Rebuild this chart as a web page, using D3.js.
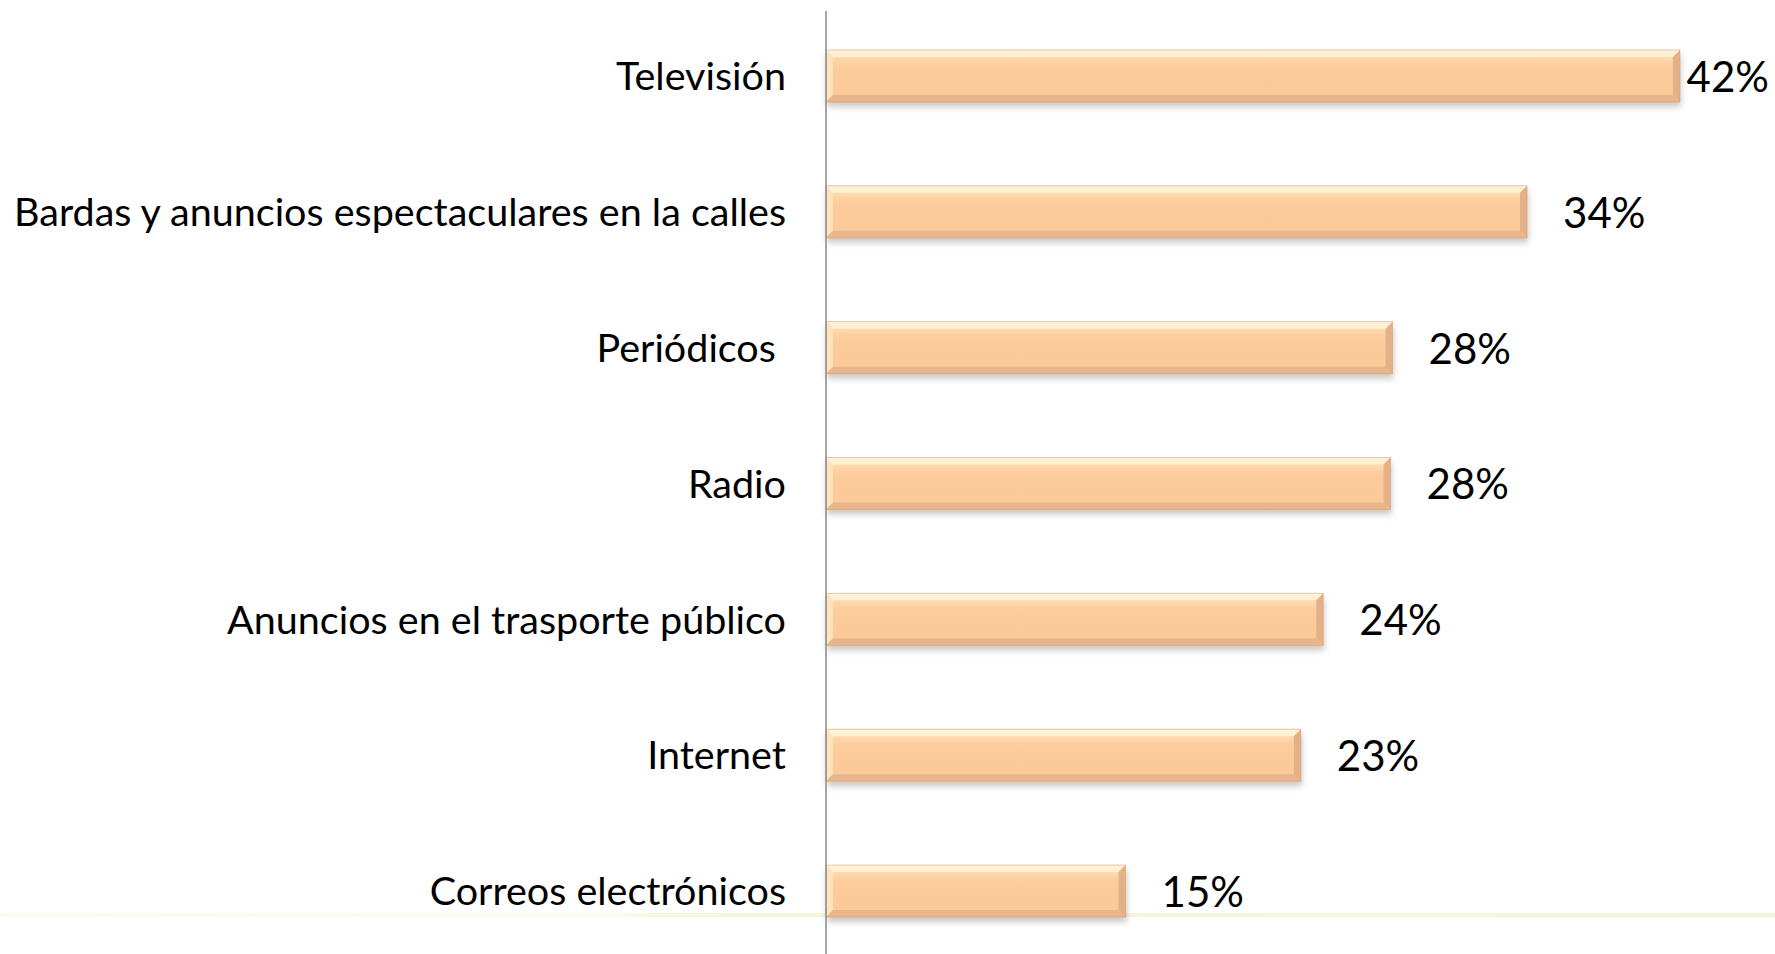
<!DOCTYPE html>
<html>
<head>
<meta charset="utf-8">
<script src="https://cdn.jsdelivr.net/npm/d3@7/dist/d3.min.js"></script>
<style>
  html, body { margin: 0; padding: 0; background: #fff; overflow: hidden; }
  text { font-family: Lato, "Open Sans", sans-serif; fill: #000; white-space: pre; }
</style>
</head>
<body>
<svg id="chart"></svg>
<script>
// categories top to bottom, and share in percent
const categories = [
    'Televisión',
    'Bardas y anuncios espectaculares en la calles',
    'Periódicos ',
    'Radio',
    'Anuncios en el trasporte público',
    'Internet',
    'Correos electrónicos'
];
const values = [41.9, 34.4, 27.8, 27.7, 24.4, 23.3, 14.7];
const valueLabels = ['42%', '34%', '28%', '28%', '24%', '23%', '15%'];

const width = 1775;
const height = 954;
const axisX = 826;

const svg = d3.select('#chart')
    .attr('width', width)
    .attr('height', height);

const x = d3.scaleLinear()
    .domain([0, 100])
    .range([axisX, axisX + 2038]);

const y = d3.scaleBand()
    .domain(categories)
    .range([8, 959])
    .paddingInner(0.617)
    .paddingOuter(0.3085);

const defs = svg.append('defs');

// faint band running across the bottom
const bandGrad = defs.append('linearGradient').attr('id', 'bandGrad');
bandGrad.append('stop').attr('offset', '0%').attr('stop-color', '#fbfcef');
bandGrad.append('stop').attr('offset', '35%').attr('stop-color', '#fafbea');
bandGrad.append('stop').attr('offset', '37%').attr('stop-color', '#f4f7da');
bandGrad.append('stop').attr('offset', '100%').attr('stop-color', '#f3f6d6');

svg.append('rect')
    .attr('x', 0)
    .attr('y', 913)
    .attr('width', width)
    .attr('height', 4)
    .attr('fill', 'url(#bandGrad)');

// bar look: peach with a bevel and a soft shadow
const fillGrad = defs.append('linearGradient')
    .attr('id', 'fillGrad')
    .attr('x1', 0).attr('y1', 0).attr('x2', 0).attr('y2', 1);
fillGrad.append('stop').attr('offset', '0%').attr('stop-color', '#fee6c2');
fillGrad.append('stop').attr('offset', '30%').attr('stop-color', '#fdcc9c');
fillGrad.append('stop').attr('offset', '100%').attr('stop-color', '#fcc898');

const shadow = defs.append('filter')
    .attr('id', 'shadow')
    .attr('x', '-5%').attr('y', '-30%')
    .attr('width', '110%').attr('height', '180%');
shadow.append('feDropShadow')
    .attr('dx', 1)
    .attr('dy', 5)
    .attr('stdDeviation', 3)
    .attr('flood-color', '#777')
    .attr('flood-opacity', 0.4);

const bev = 7;
const h = y.bandwidth();
const bars = svg.selectAll('.bar')
    .data(values)
    .enter().append('g')
    .attr('class', 'bar')
    .attr('transform', (d, i) => `translate(${x(0)},${y(categories[i])})`);

bars.append('rect')
    .attr('width', d => x(d) - x(0))
    .attr('height', h)
    .attr('fill', 'url(#fillGrad)')
    .attr('filter', 'url(#shadow)');

// bevel facets
bars.append('path') // top
    .attr('d', d => { const w = x(d) - x(0); return `M0,0H${w}L${w - bev},${bev}H${bev}Z`; })
    .attr('fill', '#fff3d6')
    .attr('opacity', 0.85);
bars.append('path') // left
    .attr('d', `M0,0L${bev},${bev}V${h - bev}L0,${h}Z`)
    .attr('fill', '#fde3be');
bars.append('path') // right
    .attr('d', d => { const w = x(d) - x(0); return `M${w},0V${h}L${w - bev},${h - bev}V${bev}Z`; })
    .attr('fill', '#e4b088');
bars.append('path') // bottom
    .attr('d', d => { const w = x(d) - x(0); return `M0,${h}H${w}L${w - bev},${h - bev}H${bev}Z`; })
    .attr('fill', '#e8b58c');
bars.append('rect')
    .attr('width', d => x(d) - x(0))
    .attr('height', h)
    .attr('fill', 'none')
    .attr('stroke', '#c9946c')
    .attr('stroke-width', 1)
    .attr('stroke-opacity', 0.45);

// vertical axis line
svg.append('line')
    .attr('x1', axisX).attr('x2', axisX)
    .attr('y1', 11).attr('y2', height)
    .attr('stroke', '#8a8a8a')
    .attr('stroke-width', 1.5);

// category labels
svg.selectAll('.cat-label')
    .data(categories)
    .enter().append('text')
    .attr('class', 'cat-label')
    .attr('x', axisX - 40)
    .attr('y', d => y(d) + y.bandwidth() / 2)
    .attr('dy', '0.36em')
    .attr('text-anchor', 'end')
    .style('font-size', '39.5px')
    .text(d => d);

// value labels
const vl = svg.selectAll('.val-label')
    .data(values)
    .enter().append('text')
    .attr('class', 'val-label')
    .attr('y', (d, i) => y(categories[i]) + y.bandwidth() / 2)
    .attr('dy', '0.38em')
    .style('font-size', '42px')
    .text((d, i) => valueLabels[i]);

vl.attr('x', function(d) {
    const tw = this.getComputedTextLength();
    return Math.min(x(d) + 36, width - tw - 6);
});
</script>
</body>
</html>
